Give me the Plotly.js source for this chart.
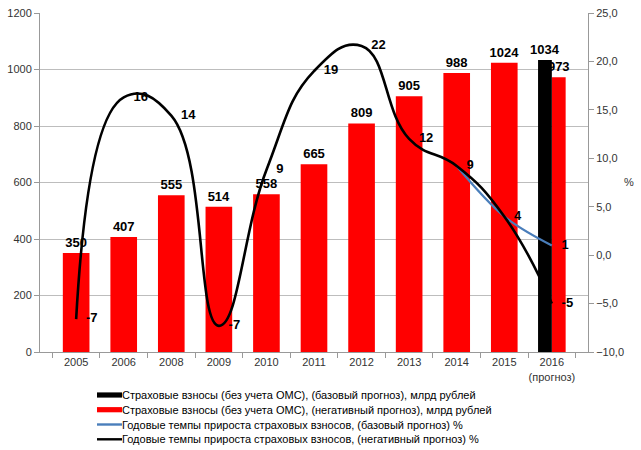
<!DOCTYPE html>
<html><head><meta charset="utf-8">
<script src="https://cdn.plot.ly/plotly-3.0.1.min.js"></script>
<style>body{margin:0;background:#fff}#c{width:641px;height:450px}</style>
</head><body><div id="c"></div>
<script>
var categories = ['2005','2006','2008','2009','2010','2011','2012','2013','2014','2015','2016<br>(прогноз)'];
var redValues = [350,407,555,514,558,665,809,905,988,1024,973];
var blackValues = [null,null,null,null,null,null,null,null,null,null,1034];
var negGrowth = [-6.6,16.3,14.4,-7.3,8.8,19,21.6,12,9.2,4,-5];
var negGrowthLabels = ['-7','16','14','-7','9','19','22','12','','','-5'];
var baseGrowth = [null,null,null,null,null,null,null,null,9.2,4,1];
var baseGrowthLabels = ['','','','','','','','','9','4','1'];
var names = [
 'Страховые взносы (без учета ОМС), (базовый прогноз), млрд рублей',
 'Страховые взносы (без учета ОМС), (негативный прогноз), млрд рублей',
 'Годовые темпы прироста страховых взносов, (базовый прогноз) %',
 'Годовые темпы прироста страховых взносов, (негативный прогноз) %'
];
var colors = {black:'#000000', red:'#ff0000', blue:'#4a7ebb'};
var F = 'Liberation Sans, Arial, sans-serif';
var n = categories.length;
var M = {l:40, r:53, t:13, b:98};
var W = 641, H = 450;
var pw = W - M.l - M.r, ph = H - M.t - M.b;
function px(x){return (x - M.l)/pw;}
function py(y){return (H - M.b - y)/ph;}

var redW = redValues.map(function(v,i){return i===n-1?0.29:0.56;});
var redO = redValues.map(function(v,i){return i===n-1?0:-0.28;});
var lblFont = {family:F, size:13, color:'#000', weight:'bold'};
var traces = [
 {type:'bar', x:categories, y:redValues, name:names[1],
  marker:{color:colors.red}, width:redW, offset:redO,
  text:redValues.map(String), textposition:'outside', cliponaxis:false, constraintext:'none', textangle:0,
  textfont:lblFont, hoverinfo:'y'},
 {type:'bar', x:categories, y:blackValues, name:names[0],
  marker:{color:colors.black}, width:0.29, offset:-0.29,
  text:blackValues.map(function(v){return v==null?'':String(v);}), textposition:'outside', cliponaxis:false,
  constraintext:'none', textangle:0, textfont:lblFont, hoverinfo:'y'},
 {type:'scatter', mode:'lines+markers+text', x:categories, y:baseGrowth, yaxis:'y2', name:names[2],
  line:{color:colors.blue, width:2.2, shape:'spline', smoothing:1},
  marker:{size:14, color:'rgba(0,0,0,0)'},
  text:baseGrowthLabels, textposition:'middle right', cliponaxis:false, textfont:lblFont},
 {type:'scatter', mode:'lines+markers+text', x:categories, y:negGrowth, yaxis:'y2', name:names[3],
  line:{color:colors.black, width:2.6, shape:'spline', smoothing:1.3},
  marker:{size:14, color:'rgba(0,0,0,0)'},
  text:negGrowthLabels, textposition:'middle right', cliponaxis:false, textfont:lblFont}
];

// legend (drawn as shapes + texts)
var legendRows = [
 {name:names[0], color:colors.black, kind:'rect', y:395},
 {name:names[1], color:colors.red, kind:'rect', y:409.7},
 {name:names[2], color:colors.blue, kind:'line', y:424.5},
 {name:names[3], color:colors.black, kind:'line', y:439.3}
];
var shapes = [], annotations = [];
legendRows.forEach(function(r){
  if (r.kind === 'rect') {
    shapes.push({type:'rect', xref:'paper', yref:'paper', x0:px(97), x1:px(122), y0:py(r.y+2.6), y1:py(r.y-2.6),
      fillcolor:r.color, line:{width:0}});
  } else {
    shapes.push({type:'line', xref:'paper', yref:'paper', x0:px(97), x1:px(122), y0:py(r.y), y1:py(r.y),
      line:{color:r.color, width:2.4}});
  }
  annotations.push({text:r.name, xref:'paper', yref:'paper', x:px(120), y:py(r.y), xanchor:'left', yanchor:'middle',
    showarrow:false, font:{family:F, size:11, color:'#000'}});
});
annotations.push({text:'%', xref:'paper', yref:'paper', x:px(622), y:py(182), showarrow:false, xanchor:'left',
  font:{family:F, size:11, color:'#333'}});

var layout = {
 width:W, height:H, margin:M,
 paper_bgcolor:'#fff', plot_bgcolor:'#fff', separators:', ',
 barmode:'overlay', showlegend:false,
 font:{family:F, size:11, color:'#333'},
 xaxis:{type:'category', showline:true, linecolor:'#999', ticks:'outside', tickson:'boundaries', tickangle:0,
  ticklen:5, tickcolor:'#999', showgrid:false, automargin:false, tickfont:{size:11, color:'#333'}},
 yaxis:{range:[0,1200], dtick:200, tickformat:'.0f', showline:true, linecolor:'#999', ticks:'outside',
  ticklen:5, tickcolor:'#999', gridcolor:'#bdbdbd', gridwidth:1.3, zeroline:false, automargin:false,
  tickfont:{size:11,color:'#333'}},
 yaxis2:{overlaying:'y', side:'right', range:[-10,25], dtick:5, tickformat:'.1f', showline:true, linecolor:'#999',
  ticks:'outside', ticklen:5, tickcolor:'#999', showgrid:false, zeroline:false, automargin:false,
  tickfont:{size:11,color:'#333'}},
 shapes:shapes, annotations:annotations
};
Plotly.newPlot('c', traces, layout, {displayModeBar:false});
</script></body></html>
